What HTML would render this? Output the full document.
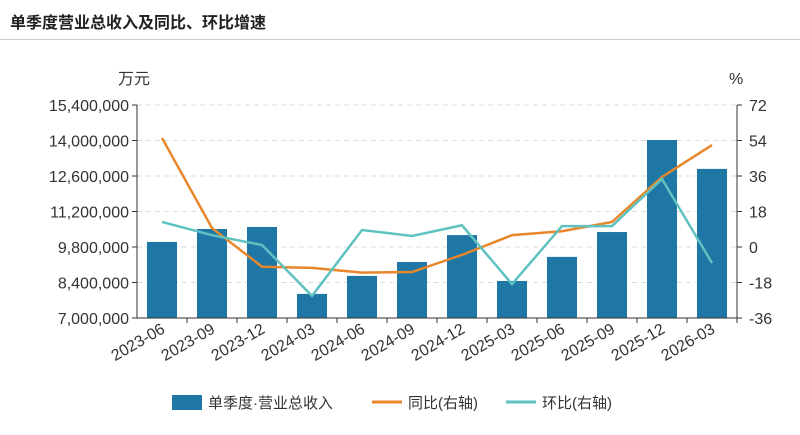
<!DOCTYPE html>
<html><head><meta charset="utf-8"><style>
body{margin:0;background:#fff;width:800px;height:435px;overflow:hidden;font-family:"Liberation Sans","Noto Sans CJK SC",sans-serif}
#title{position:absolute;left:10px;top:9px;font-size:16px;font-weight:bold;color:#222}
#rule{position:absolute;left:0;top:39px;width:800px;height:1px;background:#ccc}
</style></head><body>
<div id="title">单季度营业总收入及同比、环比增速</div>
<div id="rule"></div>
<svg id="chart" width="800" height="435" style="position:absolute;left:0;top:0"></svg>
<script>
const categories=["2023-06","2023-09","2023-12","2024-03","2024-06","2024-09","2024-12","2025-03","2025-06","2025-09","2025-12","2026-03"];
const revenue=[10000000,10510000,10590000,7950000,8660000,9210000,10270000,8460000,9410000,10390000,14020000,12880000];
const yoy=[55.3,9.6,-10,-10.6,-13,-12.7,-4,6,8,12.7,35.5,51.7];
const qoq=[12.7,6,1,-24.8,8.6,5.6,11,-18.8,10.6,10.6,34.5,-8.1];
const leftTicks=[7000000,8400000,9800000,11200000,12600000,14000000,15400000];
const rightTicks=[-36,-18,0,18,36,54,72];
const NS="http://www.w3.org/2000/svg";
const svg=document.getElementById('chart');
const L=137,R=737,T=105,B=318;
const yL=v=>B-(v-7000000)/(15400000-7000000)*(B-T);
const yR=v=>B-(v+36)/108*(B-T);
const bw=(R-L)/categories.length;
const xC=i=>L+bw*(i+0.5);
function el(t,a,txt){const e=document.createElementNS(NS,t);for(const k in a)e.setAttribute(k,a[k]);if(txt!==undefined)e.textContent=txt;svg.appendChild(e);return e;}
leftTicks.forEach((v,i)=>{
 const g=el('line',{x1:L,x2:R,y1:yL(v),y2:yL(v),stroke:'#ddd','stroke-dasharray':'5,4'});
 
 
 const t=el('text',{x:L-8,y:yL(v)+6,'text-anchor':'end','font-size':'16',fill:'#333'},v.toLocaleString('en-US'));
 
 
 el('line',{x1:L-5,x2:L,y1:yL(v),y2:yL(v),stroke:'#333'});
});
rightTicks.forEach(v=>{
 const t=el('text',{x:R+12,y:yR(v)+6,'font-size':'16',fill:'#333'},String(v));
 
 
 el('line',{x1:R,x2:R+5,y1:yR(v),y2:yR(v),stroke:'#333'});
});
const u1=el('text',{x:118,y:84,'font-size':'16',fill:'#333'},'万元');


const u2=el('text',{x:729,y:84,'font-size':'16',fill:'#333'},'%');


revenue.forEach((v,i)=>{
 const b=el('rect',{x:xC(i)-15,y:yL(v),width:30,height:B-yL(v),fill:'#1f77a6'});
 
 
});
el('line',{x1:L,x2:L,y1:T,y2:B,stroke:'#333'});
el('line',{x1:R,x2:R,y1:T,y2:B,stroke:'#333'});
el('line',{x1:L,x2:R,y1:B,y2:B,stroke:'#333'});
categories.forEach((c,i)=>{
 el('line',{x1:L+bw*(i+1),x2:L+bw*(i+1),y1:B,y2:B+5,stroke:'#333'});
 const t=el('text',{x:xC(i)+4,y:B+14,'text-anchor':'end','font-size':'16',fill:'#333',transform:`rotate(-30 ${xC(i)+4} ${B+14})`},c);
 
 
});
function line(arr,color,name){
 const p=el('polyline',{points:arr.map((v,i)=>xC(i)+','+yR(v)).join(' '),fill:'none',stroke:color,'stroke-width':'2.5'});
 
 
}
line(yoy,'#e8862a','yoy-line');
line(qoq,'#5fc1c0','qoq-line');
// legend
const lg=[['rect','#1f77a6','单季度·营业总收入',172],['line','#e8862a','同比(右轴)',372],['line','#5fc1c0','环比(右轴)',506]];
lg.forEach(([k,c,txt,x])=>{
 if(k==='rect')el('rect',{x:x,y:395,width:30,height:15,fill:c});
 else el('line',{x1:x,x2:x+30,y1:402,y2:402,stroke:c,'stroke-width':'3'});
 const t=el('text',{x:x+36,y:408,'font-size':'15',fill:'#333'},txt);
 
 
});
</script>
</body></html>
